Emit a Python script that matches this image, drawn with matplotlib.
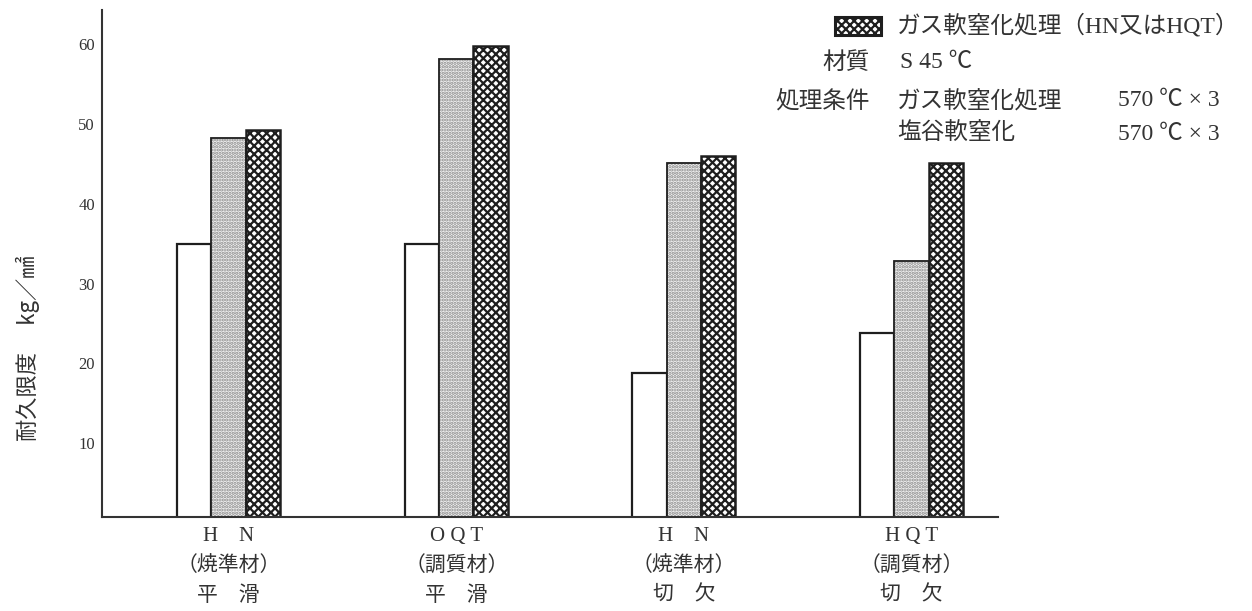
import numpy as np
import matplotlib
matplotlib.use("Agg")
import matplotlib.pyplot as plt
from matplotlib.patches import Rectangle

plt.rcParams['font.family'] = ['Liberation Serif', 'Noto Sans CJK JP', 'DejaVu Sans']
plt.rcParams['hatch.linewidth'] = 1.6

# Endurance limit (kg/mm^2) for S45C, four specimen conditions
categories = ["H　N\n（焼準材）\n平　滑",
              "O Q T\n（調質材）\n平　滑",
              "H　N\n（焼準材）\n切　欠",
              "H Q T\n（調質材）\n切　欠"]
untreated = [35.0, 35.0, 18.8, 23.8]
salt_bath = [48.2, 58.1, 45.1, 32.8]
gas_nitro = [49.2, 59.8, 46.0, 45.1]
yticks = [10, 20, 30, 40, 50, 60]

W, H = 1252, 611
fig = plt.figure(figsize=(W / 100, H / 100), dpi=100)
ax = fig.add_axes([102 / W, 1 - 517 / H, (998 - 102) / W, (517 - 10) / H])

x = np.arange(len(categories))
w = 0.151
ink = '#1e1e1e'
txt = '#333333'

# plain bars
ax.bar(x - w, untreated, w, color='white', edgecolor=ink, linewidth=1.6)
# stippled bars: grey dots, then a dark outline
ax.bar(x, salt_bath, w, color='#f2f2f2', edgecolor='#8a8a8a', linewidth=0, hatch='.....')
ax.bar(x, salt_bath, w, color='none', edgecolor=ink, linewidth=1.3)
# heavily patterned bars
ax.bar(x + w, gas_nitro, w, color='white', edgecolor=ink, linewidth=1.8, hatch='xxxx')

ax.set_xlim(-0.556, 3.380)
ax.set_ylim(0.75, 64.3)
ax.set_yticks(yticks)
ax.set_yticklabels([str(v) for v in yticks], fontsize=12, color=txt)
ax.set_xticks(x)
ax.set_xticklabels(categories, fontsize=15, linespacing=1.7, color=txt,
                   family=['Liberation Serif', 'Noto Sans CJK JP'])
ax.tick_params(axis='both', length=0)
ax.tick_params(axis='y', pad=5)
ax.tick_params(axis='x', pad=7)
for s in ['top', 'right']:
    ax.spines[s].set_visible(False)
for s in ['left', 'bottom']:
    ax.spines[s].set_linewidth(1.5)
    ax.spines[s].set_color('#333333')

fig.text(28 / W, 1 - 348 / H, "耐久限度　 kg／㎟", rotation=90, ha='center', va='center',
         fontsize=16, color=txt, family=['Noto Sans CJK JP', 'DejaVu Sans'])

# Legend swatch and notes in the upper right
fig.patches.append(Rectangle((835 / W, 1 - 35 / H), 46 / W, 18 / H,
                             transform=fig.transFigure, facecolor='white',
                             edgecolor=ink, linewidth=2.2, hatch='xxxx'))
kw = dict(fontsize=17, color=txt, va='center',
          family=['Liberation Serif', 'Noto Sans CJK JP', 'DejaVu Sans'])
fig.text(897 / W, 1 - 26 / H, "ガス軟窒化処理（HN又はHQT）", **kw)
fig.text(870 / W, 1 - 63 / H, "材質", ha='right', **kw)
fig.text(900 / W, 1 - 63 / H, "S 45 ℃", **kw)
fig.text(870 / W, 1 - 101 / H, "処理条件", ha='right', **kw)
fig.text(897 / W, 1 - 101 / H, "ガス軟窒化処理", **kw)
fig.text(1118 / W, 1 - 101 / H, "570 ℃ × 3", **kw)
fig.text(897 / W, 1 - 134 / H, "塩谷軟窒化", **kw)
fig.text(1118 / W, 1 - 134 / H, "570 ℃ × 3", **kw)

fig.savefig("out.png", dpi=100)
